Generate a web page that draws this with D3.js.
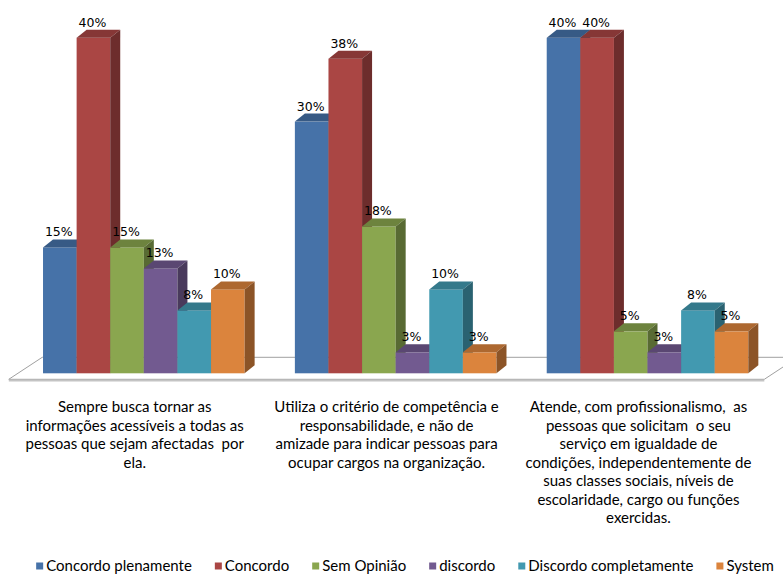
<!DOCTYPE html>
<html><head><meta charset="utf-8">
<script src="https://cdn.jsdelivr.net/npm/d3@7"></script>
<style>body{margin:0;background:#fff}svg{display:block}text{white-space:pre}</style>
</head><body>
<svg id="chart" width="783" height="574"></svg>
<script>
// ---- data ----
const categories = [
  ["Sempre busca tornar as", "informações acessíveis a todas as", "pessoas que sejam afectadas  por", "ela."],
  ["Utiliza o critério de competência e", "responsabilidade, e não de", "amizade para indicar pessoas para", "ocupar cargos na organização."],
  ["Atende, com profissionalismo,  as", "pessoas que solicitam  o seu", "serviço em igualdade de", "condições, independentemente de", "suas classes sociais, níveis de", "escolaridade, cargo ou funções", "exercidas."]
];
const seriesNames = ["Concordo plenamente", "Concordo", "Sem Opinião", "discordo", "Discordo completamente", "System"];
const concordoPlenamente   = [15, 30, 40];
const concordo             = [40, 37.5, 40];
const semOpiniao           = [15, 17.5, 5];
const discordo             = [12.5, 2.5, 2.5];
const discordoCompletamente = [7.5, 10, 7.5];
const system               = [10, 2.5, 5];
const seriesColors = ["#4672A8", "#AA4644", "#8AA64F", "#725A90", "#4299B0", "#DB843D"];

const seriesValues = [concordoPlenamente, concordo, semOpiniao, discordo, discordoCompletamente, system];

// ---- layout ----
const svg = d3.select("#chart");
const y = d3.scaleLinear().domain([0, 40]).range([373.3, 37.7]);
const x0 = d3.scaleBand().domain(d3.range(categories.length)).range([17.9, 773.45])
  .paddingInner(0.1995).paddingOuter(0.09975);
const x1 = d3.scaleBand().domain(seriesNames).range([0, x0.bandwidth()]);
const color = d3.scaleOrdinal().domain(seriesNames).range(seriesColors);

const base = y(0);
const dx = 10, dy = 8;          // bar depth projection
const fSkew = 1.52, fFront = 6, fBack = 16; // floor
const [rx0, rx1] = x0.range();

// floor
const floorPts = [
  [rx0 - fFront * fSkew, base + fFront],
  [rx1 - fFront * fSkew, base + fFront],
  [rx1 + fBack * fSkew, base - fBack],
  [rx0 + fBack * fSkew, base - fBack]
];
svg.append("polygon").attr("points", floorPts.map(p => p.join(",")).join(" "))
  .attr("fill", "#fff").attr("stroke", "#a0a0a0").attr("stroke-width", 1);
svg.append("line")
  .attr("x1", floorPts[0][0]).attr("x2", floorPts[1][0])
  .attr("y1", base + fFront + 1.3).attr("y2", base + fFront + 1.3)
  .attr("stroke", "#c4c4c4").attr("stroke-width", 1.8);

// bars
const data = [];
categories.forEach((c, i) => {
  seriesNames.forEach((s, j) => data.push({ cat: i, series: s, value: seriesValues[j][i] }));
});

const bars = svg.append("g").selectAll("g").data(data).join("g");
bars.each(function (d) {
  const g = d3.select(this);
  const x = x0(d.cat) + x1(d.series), w = x1.bandwidth(), t = y(d.value);
  const c = d3.color(color(d.series));
  g.append("rect").attr("x", x).attr("y", t).attr("width", w).attr("height", base - t)
    .attr("fill", c.formatHex());
  g.append("polygon")
    .attr("points", [[x, t], [x + dx, t - dy], [x + w + dx, t - dy], [x + w, t]].map(p => p.join(",")).join(" "))
    .attr("fill", d3.rgb(c.r * 0.79, c.g * 0.79, c.b * 0.79).formatHex());
  g.append("polygon")
    .attr("points", [[x + w, t], [x + w + dx, t - dy], [x + w + dx, base - dy], [x + w, base]].map(p => p.join(",")).join(" "))
    .attr("fill", d3.rgb(c.r * 0.64, c.g * 0.64, c.b * 0.64).formatHex());
});

// data labels
svg.append("g").selectAll("text").data(data).join("text")
  .attr("x", d => x0(d.cat) + x1(d.series) + x1.bandwidth() / 2 - 1)
  .attr("y", d => y(d.value) - 11)
  .attr("text-anchor", "middle")
  .attr("font-family", "DejaVu Sans, Verdana, sans-serif")
  .attr("font-size", 12.5)
  .attr("fill", "#000")
  .text(d => Math.round(d.value) + "%");

// category labels
const catFont = "Lato, Calibri, sans-serif";
const catG = svg.append("g").selectAll("text").data(categories).join("text")
  .attr("text-anchor", "middle")
  .attr("font-family", catFont).attr("font-size", 15)
  .attr("fill", "#000")
  .attr("transform", (d, i) => `translate(${x0(i) + x0.bandwidth() / 2 - fFront * fSkew},412)`);
catG.selectAll("tspan").data(d => d).join("tspan")
  .attr("x", 0).attr("dy", (d, k) => k === 0 ? 0 : 18.5).text(d => d);

// legend
const leg = svg.append("g");
const items = leg.selectAll("g").data(seriesNames).join("g");
items.append("rect").attr("width", 7).attr("height", 7).attr("y", 562.5).attr("fill", d => color(d));
items.append("text").attr("x", 10).attr("y", 570.5)
  .attr("font-family", catFont).attr("font-size", 15).attr("fill", "#000").text(d => d);
let cx = 0;
const offs = [];
items.each(function () {
  offs.push(cx);
  cx += 10 + d3.select(this).select("text").node().getComputedTextLength() + 23;
});
const totalW = cx - 23;
const startX = 405 - totalW / 2;
items.attr("transform", (d, i) => `translate(${startX + offs[i]},0)`);
</script>
</body></html>
